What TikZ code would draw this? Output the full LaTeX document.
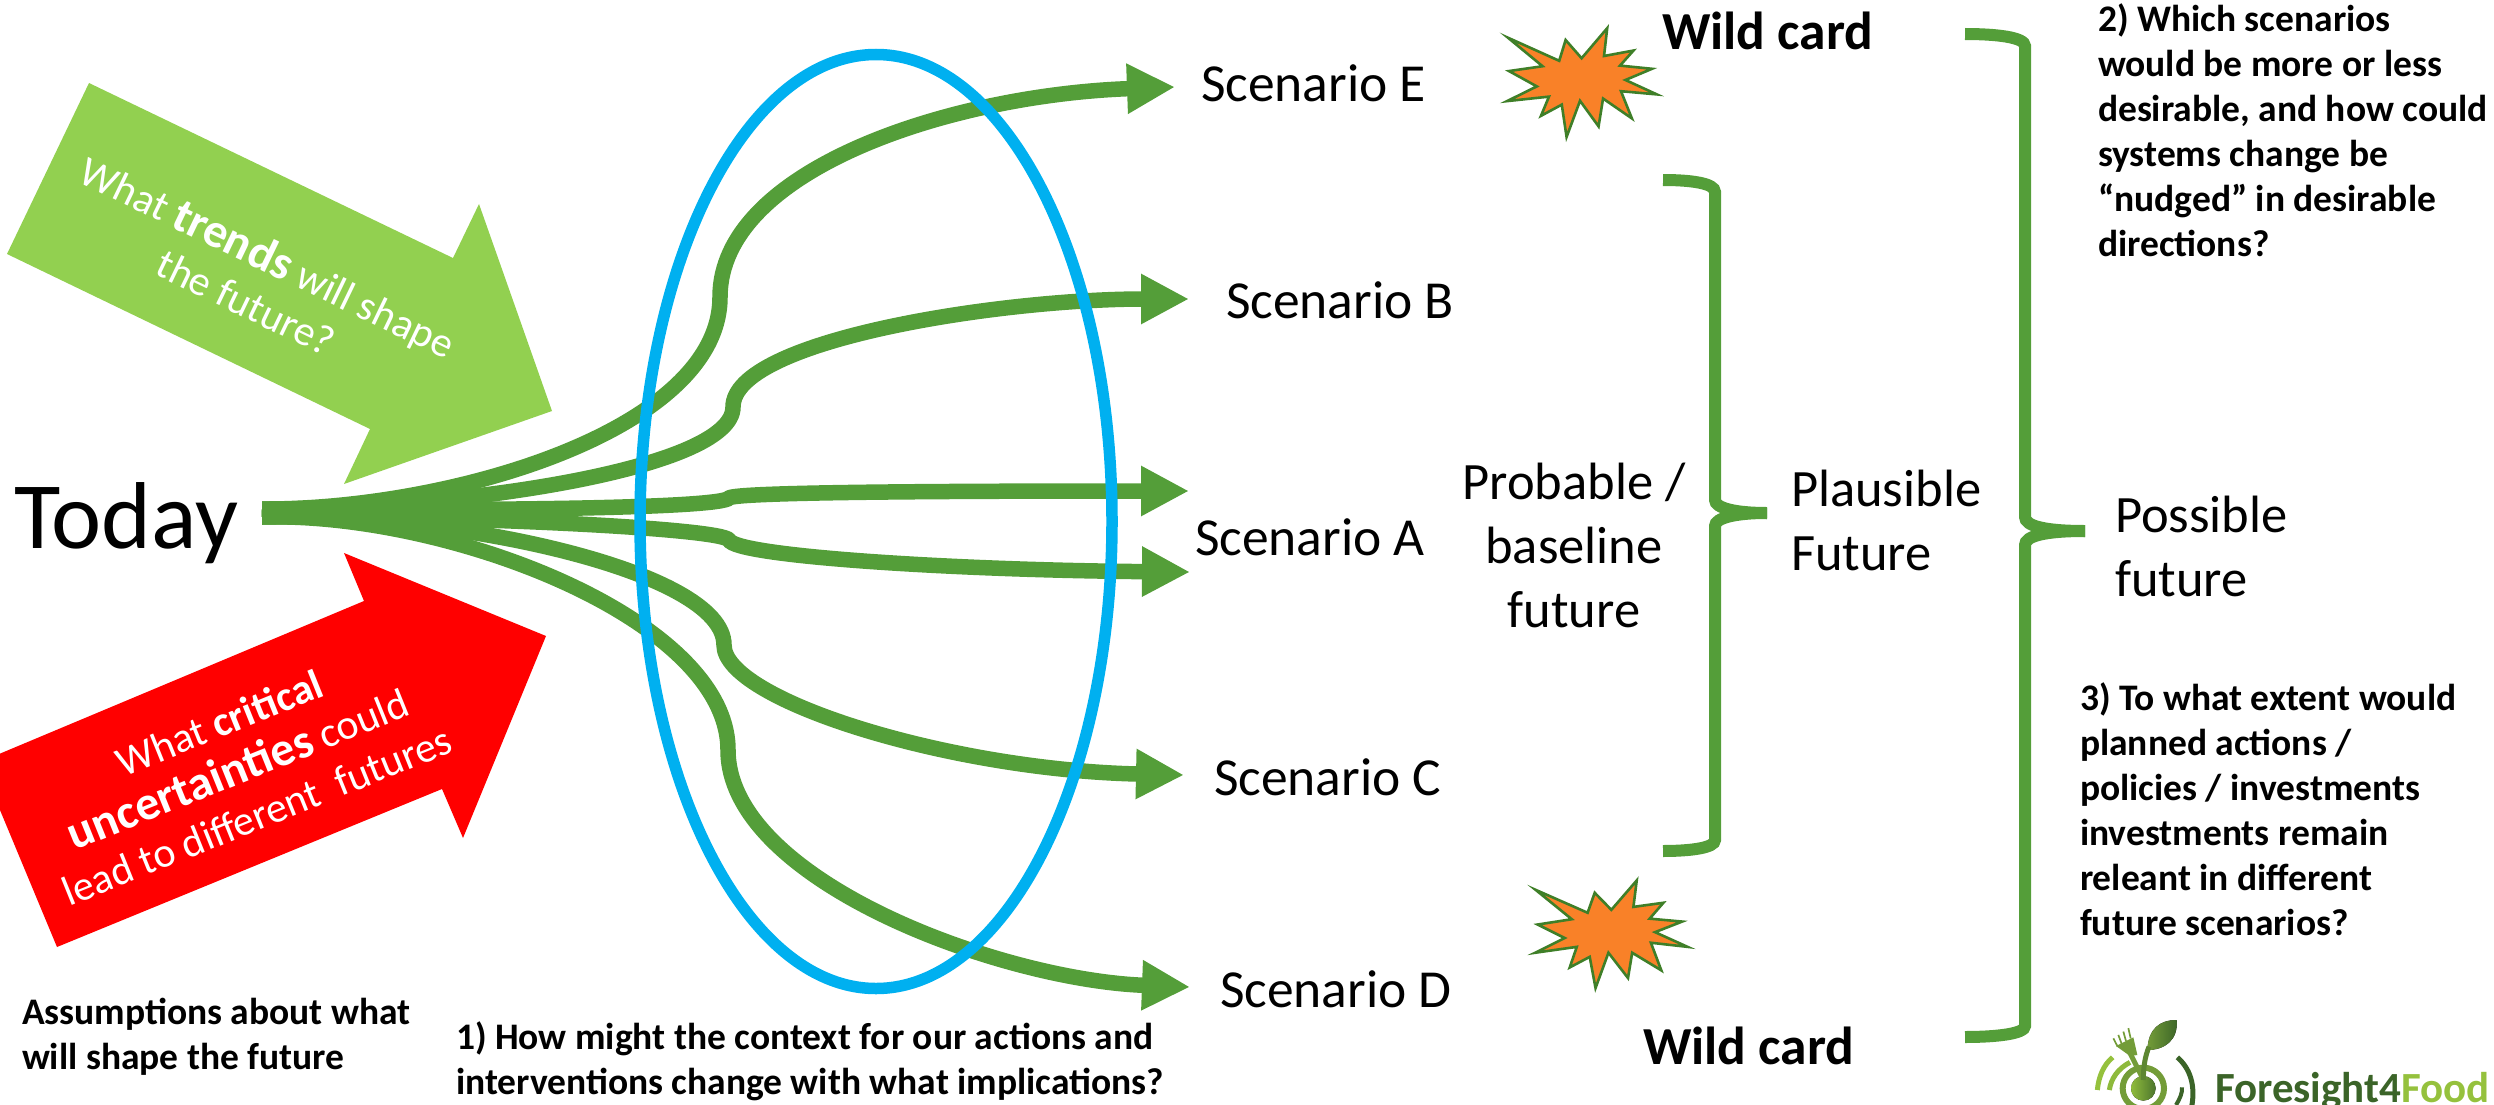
\documentclass[tikz,border=0pt]{standalone}
\usepackage{fontspec}
\setmainfont{Carlito}
\usetikzlibrary{arrows.meta}
\definecolor{fgreen}{HTML}{549E39}
\definecolor{fblue}{HTML}{00B0F0}
\definecolor{flight}{HTML}{92D050}
\definecolor{forange}{HTML}{F98128}
\definecolor{fedge}{HTML}{3F7F28}
\definecolor{logodark}{HTML}{3B6428}
\definecolor{logomid}{HTML}{739C38}
\definecolor{logolight}{HTML}{95C13D}
\newcommand{\fsz}[2]{\fontsize{#1}{#2}\selectfont}
\tikzset{
  every node/.style={inner sep=0pt,outer sep=0pt},
  path arrow/.style={draw=fgreen,line width=15.5pt,-{Triangle[length=48pt,width=47pt]}},
  brace line/.style={draw=fgreen,line width=12pt},
  burst/.style={fill=forange,draw=fedge,line width=2.6pt,line join=miter,miter limit=10},
  scenario/.style={anchor=base west,font=\fsz{53.5}{64}},
  plain label/.style={anchor=base west,align=left,font=\fsz{52.5}{64}},
  question/.style={anchor=base west,align=left,font=\fsz{37.5}{45}\bfseries},
  wild/.style={anchor=base west,font=\fsz{53.5}{64}\bfseries},
  arrow text/.style={text=white,align=center,font=\fsz{42}{50}},
}
\begin{document}
\begin{tikzpicture}[x=1pt,y=-1pt]
\useasboundingbox (0,0) rectangle (2494,1105);
% big arrows
\fill[flight] (89,83) -- (453,258) -- (479,204) -- (552,411) -- (344,484) -- (370,429) -- (7,254) -- cycle;
\fill[red] (-20,762) -- (364,601) -- (344,553) -- (546,636) -- (463,838) -- (442,789) -- (57,947) -- cycle;
\node[arrow text,rotate=-25.7] (trends) at (258,278) {What {\fontsize{48}{50}\selectfont\bfseries trends} will shape\\the future?};
\node[arrow text,rotate=22] (uncert) at (238,769) {What \textbf{critical}\\{\fontsize{48}{50}\selectfont\bfseries uncertainties} could\\lead to different\ \ futures};
% today
\node[anchor=base west,font=\fsz{95}{100}] (today) at (14,548) {Today};
\coordinate (startU) at (262,509);
\coordinate (startL) at (262,517);
\coordinate (tipE) at (1175,87);
\coordinate (tipB) at (1189,299);
\coordinate (tipAa) at (1189,491);
\coordinate (tipAb) at (1190,572);
\coordinate (tipC) at (1184,775);
\coordinate (tipD) at (1190,987);
% scenario paths
\draw[path arrow] (startU) .. controls (450,510) and (720,430) .. (720,297) .. controls (720,170) and (950,95) .. (tipE);
\draw[path arrow] (startU) .. controls (450,510) and (733,470) .. (733,407) .. controls (733,340) and (1000,299) .. (tipB);
\draw[path arrow] (startU) .. controls (500,511) and (722,508) .. (729,498) .. controls (735,492) and (950,491) .. (tipAa);
\draw[path arrow] (startL) .. controls (450,515) and (722,528) .. (729,540) .. controls (735,556) and (950,570) .. (tipAb);
\draw[path arrow] (startL) .. controls (450,512) and (724,570) .. (724,645) .. controls (724,700) and (950,770) .. (tipC);
\draw[path arrow] (startL) .. controls (450,512) and (728,620) .. (728,750) .. controls (728,880) and (1000,980) .. (tipD);
% ellipse
\draw[fblue,line width=11.5pt] (876,521.5) ellipse [x radius=236,y radius=467];
% scenario labels
\node[scenario] (scE) at (1201,102) {Scenario E};
\node[scenario] (scB) at (1226,318) {Scenario B};
\node[scenario] (scA) at (1195,555) {Scenario A};
\node[scenario] (scC) at (1214,795) {Scenario C};
\node[scenario] (scD) at (1220,1007) {Scenario D};
% wild cards
\begin{scope}[shift={(1484,3.2)},x=.32pt,y=-.32pt]
\draw[burst] (75,108)--(235,180)--(255,115)--(305,172)--(385,78)--(375,165)--(467,148)--(425,195)--(525,205)--(442,240)--(540,285)--(428,275)--(462,360)--(372,298)--(358,385)--(300,305)--(258,418)--(243,317)--(178,352)--(203,292)--(72,306)--(165,260)--(78,212)--(183,197)--cycle;
\end{scope}
\begin{scope}[shift={(1446.9,162)},x=.4163pt,y=-.5879pt]
\draw[burst] (213,1238)--(338,1277)--(355,1243)--(395,1272)--(456,1222)--(448,1267)--(520,1260)--(487,1287)--(565,1292)--(500,1310)--(578,1335)--(490,1328)--(515,1375)--(445,1345)--(435,1388)--(388,1345)--(357,1405)--(343,1352)--(295,1370)--(312,1335)--(212,1345)--(283,1320)--(218,1297)--(300,1288)--cycle;
\end{scope}
\node[wild] (wildT) at (1662,50) {Wild card};
\node[wild] (wildB) at (1643,1064) {Wild card};
% futures
\node[plain label,align=center,anchor=base] (prob) at (1574,627) {Probable /\\baseline\\future};
\node[plain label] (plaus) at (1791,570) {Plausible\\Future};
\node[plain label] (poss) at (2115,596) {Possible\\future};
% braces
\coordinate (b1top) at (1663,180);
\coordinate (b1bot) at (1663,851);
\coordinate (b1mid) at (1767,513);
\draw[brace line] (b1top) .. controls (1690,180) and (1715,183) .. (1715,192) -- (1715,500) .. controls (1715,508) and (1735,513) .. (b1mid);
\draw[brace line] (b1bot) .. controls (1690,851) and (1715,848) .. (1715,840) -- (1715,526) .. controls (1715,518) and (1735,513) .. (b1mid);
\coordinate (b2top) at (1965,34);
\coordinate (b2bot) at (2085,531);
\coordinate (b2low) at (1965,1037);
\draw[brace line] (b2top) .. controls (1995,34) and (2025,37) .. (2025,46) -- (2025,517) .. controls (2025,526) and (2045,531) .. (b2bot);
\draw[brace line] (b2low) .. controls (1995,1037) and (2025,1034) .. (2025,1026) -- (2025,545) .. controls (2025,536) and (2045,531) .. (b2bot);
% questions
\node[question] (q2) at (2098,256) {2) Which scenarios\\would be more or less\\desirable, and how could\\systems change be\\“nudged” in desirable\\directions?};
\node[question] (q3) at (2080,935) {3) To what extent would\\planned actions /\\policies / investments\\investments remain\\releant in different\\future scenarios?};
\node[question] (q0) at (22,1069) {Assumptions about what\\will shape the future};
\node[question] (q1) at (456,1094) {1) How might the context for our actions and\\interventions change with what implications?};
% logo
\begin{scope}[shift={(2050,1000)},x=.3333pt,y=-.3333pt]
\draw[logolight,line width=5pt] (142,270) .. controls (146,230) and (160,195) .. (188,172);
\draw[logolight!80!logomid,line width=5pt] (178,270) .. controls (183,235) and (205,205) .. (240,187);
\draw[logomid,line width=6pt] (280,265) circle [radius=62];
\draw[logodark,line width=5pt] (382,172) .. controls (420,205) and (437,255) .. (425,320);
\draw[logodark,line width=4pt] (378,315) .. controls (390,295) and (397,280) .. (396,262);
\fill[left color=logolight!85!logomid,right color=logodark!70!logomid] (280,265) circle [radius=37];
\foreach \a/\b in {190/203,205/215,220/228,235/242}{\draw[logomid,line width=1.7pt] (\a,{115-(\a-190)*.68}) -- (\b,{140-(\a-190)*.55});}
\fill[logomid] (198,138) -- (250,112) -- (262,165) -- (240,168) -- cycle;
\draw[logomid,line width=5pt] (238,155) -- (278,235);
\fill[left color=logomid,right color=logodark] (380,60) .. controls (330,60) and (295,85) .. (292,150) .. controls (345,150) and (385,120) .. cycle;
\draw[logomid!60!logodark,line width=5pt] (297,140) .. controls (285,170) and (280,200) .. (280,240);
\end{scope}
\node[anchor=base west,font=\fsz{43}{50}\bfseries] (logo) at (2215,1102) {\textcolor{logodark}{Foresight4}\textcolor{logolight}{Food}};
\end{tikzpicture}
\end{document}
